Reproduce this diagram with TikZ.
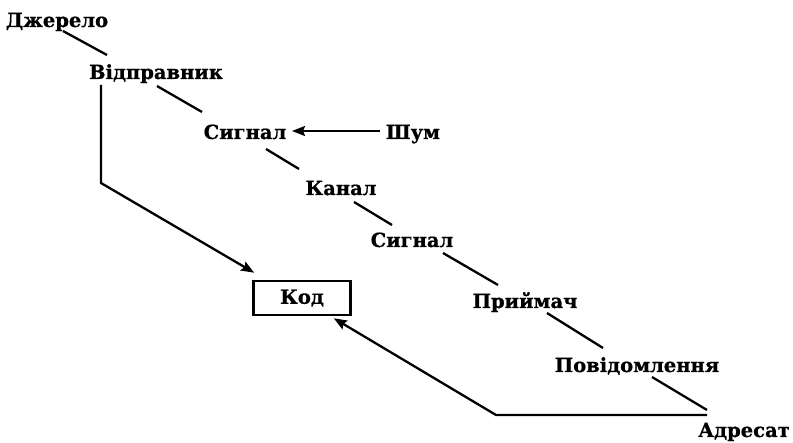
\documentclass[tikz,border=0pt]{standalone}
\usepackage{fontspec}
\setmainfont{DejaVu Serif}
\newfontfamily\lblfont{DejaVu Serif}[UprightFont=*-Bold,FakeBold=0.8]
\usetikzlibrary{calc,arrows.meta}
\begin{document}
\begin{tikzpicture}[x=1pt,y=-1pt,
  lbl/.style={anchor=base,inner sep=0pt,font=\fontsize{19.5}{20}\lblfont},
  link/.style={line width=2.3pt},
  arr/.style={line width=2.3pt,-{Stealth[length=13pt,width=10pt,inset=2pt]}},
  codebox/.style={draw,line width=2.6pt,minimum width=97pt,minimum height=34pt,inner sep=0pt,
    font=\fontsize{19.5}{20}\lblfont}]
\useasboundingbox (0,0) rectangle (793,443);
% stages of the chain, placed by their baselines
\node[lbl] (dzh)  at (57,27)   {Джерело};
\node[lbl] (vid)  at (156,79)  {Відправник};
\node[lbl] (sig1) at (245,139) {Сигнал};
\node[lbl] (shum) at (413,139) {Шум};
\node[lbl] (kan)  at (341,195) {Канал};
\node[lbl] (sig2) at (412,247) {Сигнал};
\node[lbl] (prm)  at (525,308) {Приймач};
\node[lbl] (pov)  at (637,372) {Повідомлення};
\node[lbl] (adr)  at (744,437) {Адресат};
\node[codebox] (kod) at (302,298) {Код};
\coordinate (bendL) at (101,183);
\coordinate (bendR) at (496,415);
% plain links along the chain
\draw[link] ($(dzh.base)+(6,4)$)    -- ($(vid.base)+(-49,-24)$);
\draw[link] ($(vid.base)+(1,7)$)    -- ($(sig1.base)+(-43,-27)$);
\draw[link] ($(sig1.base)+(21,10)$) -- ($(kan.base)+(-42,-26)$);
\draw[link] ($(kan.base)+(13,7)$)   -- ($(sig2.base)+(-20,-22)$);
\draw[link] ($(sig2.base)+(31,6)$)  -- ($(prm.base)+(-27,-23)$);
\draw[link] ($(prm.base)+(22,5)$)   -- ($(pov.base)+(-34,-24)$);
\draw[link] ($(pov.base)+(15,5)$)   -- ($(adr.base)+(-37,-27)$);
% noise acting on the signal
\draw[arr] ($(shum.base)+(-33,-8)$) -- ($(sig1.base)+(47,-8)$);
% both ends share the code
\draw[arr] ($(vid.base)+(-55,6)$) -- (bendL) -- ($(kod.north west)+(2,-7)$);
\draw[arr] ($(adr.base)+(-37,-22)$) -- (bendR) -- ($(kod.south east)+(-18,2)$);
\end{tikzpicture}
\end{document}
